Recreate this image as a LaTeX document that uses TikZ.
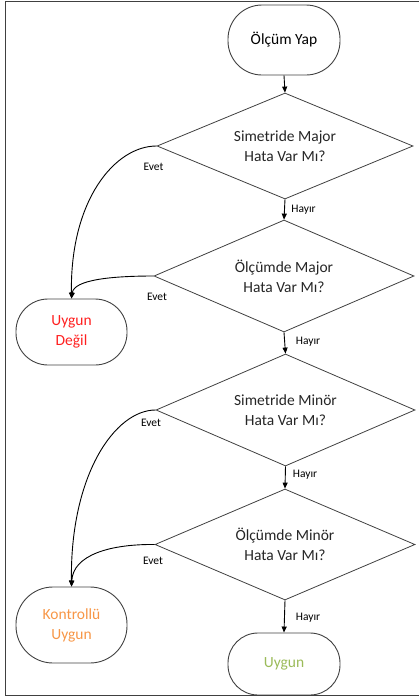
\documentclass[tikz,border=0pt]{standalone}
\usepackage{fontspec}
\setmainfont{Carlito}
\usetikzlibrary{shapes.geometric,arrows.meta}
\definecolor{linegray}{HTML}{404040}
\definecolor{txtred}{HTML}{FF2020}
\definecolor{txtorange}{HTML}{F79646}
\definecolor{txtgreen}{HTML}{9BBB59}
\tikzset{
  term/.style={draw=linegray, line width=0.9pt, rounded corners=34pt, minimum width=112pt, inner sep=0pt, align=center, font=\fontsize{15.5}{20}\selectfont},
  decide/.style={draw=linegray, line width=0.8pt, shape=diamond, shape aspect=2.4, inner sep=0pt, align=center, font=\fontsize{15.5}{20}\selectfont, text=black!85},
  lbl/.style={font=\fontsize{11.5}{13}\selectfont, inner sep=0pt},
  arr/.style={draw=black, line width=0.9pt, -{Triangle[length=6pt,width=5pt]}},
}
\begin{document}
\begin{tikzpicture}[x=1pt,y=-1pt]
\useasboundingbox (0,0) rectangle (419,697);
\begin{scope}
\clip (0,0) rectangle (419,697);
\draw[linegray, line width=1.2pt] (5.5,1.5) rectangle (425,695.5);
\end{scope}
\node[term, minimum height=70pt] (start) at (284,40) {Ölçüm Yap};
\node[decide, minimum width=256pt, minimum height=106pt] (d1) at (285,146) {Simetride Major\\Hata Var Mı?};
\node[decide, minimum width=260pt, minimum height=112pt] (d2) at (284,276) {Ölçümde Major\\Hata Var Mı?};
\node[decide, minimum width=259pt, minimum height=112pt] (d3) at (285.5,410) {Simetride Minör\\Hata Var Mı?};
\node[decide, minimum width=260pt, minimum height=111pt] (d4) at (285,544.5) {Ölçümde Minör\\Hata Var Mı?};
\node[term, minimum width=111pt, minimum height=66pt, rounded corners=32pt, text=txtred] (nok) at (71.5,332) {Uygun\\Değil};
\node[term, minimum width=111pt, minimum height=76pt, rounded corners=37pt, text=txtorange] (kok) at (71.5,625) {Kontrollü\\Uygun};
\node[term, minimum height=62pt, rounded corners=30pt, text=txtgreen] (ok) at (284,664) {Uygun};
\draw[arr] (start.south) -- (d1.north);
\draw[arr] (d1.south) -- (d2.north);
\draw[arr] (d2.south) -- (d3.north);
\draw[arr] (d3.south) -- (d4.north);
\draw[arr] (d4.south) -- (ok.north);
\draw[arr] (d1.west) .. controls (115,146) and (70,200) .. (nok.north);
\draw[arr] (d2.west) .. controls (110,276) and (74,280) .. (nok.north);
\draw[arr] (d3.west) .. controls (115,410) and (70,475) .. (kok.north);
\draw[arr] (d4.west) .. controls (110,544) and (73,555) .. (kok.north);
\node[lbl] (e1) at (153.5,167) {Evet};
\node[lbl] (e2) at (157,297) {Evet};
\node[lbl] (e3) at (151,423) {Evet};
\node[lbl] (e4) at (153,561) {Evet};
\node[lbl] (h1) at (303.5,210) {Hayır};
\node[lbl] (h2) at (308,342) {Hayır};
\node[lbl] (h3) at (305,475) {Hayır};
\node[lbl] (h4) at (308,618) {Hayır};
\end{tikzpicture}
\end{document}
